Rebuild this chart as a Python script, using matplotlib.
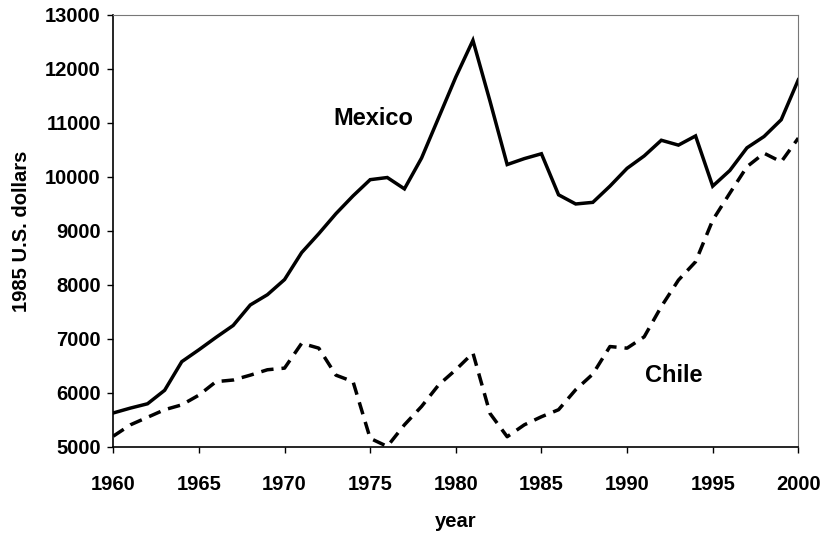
import matplotlib
matplotlib.use("Agg")
import matplotlib.pyplot as plt

years = list(range(1960, 2001))
mexico = [5630, 5720, 5800, 6050, 6580, 6800, 7030, 7250, 7630, 7820, 8100,
          8600, 8950, 9320, 9650, 9950, 9990, 9780, 10350, 11100, 11850,
          12530, 11400, 10230, 10340, 10430, 9670, 9500, 9530, 9830, 10160,
          10390, 10680, 10590, 10760, 9830, 10120, 10540, 10750, 11060, 11800]
chile = [5200, 5410, 5550, 5690, 5780, 5960, 6210, 6240, 6330, 6430, 6460,
         6920, 6830, 6330, 6210, 5160, 5010, 5410, 5750, 6150, 6430,
         6740, 5620, 5190, 5410, 5560, 5690, 6060, 6350, 6860, 6830,
         7040, 7600, 8090, 8430, 9200, 9700, 10190, 10440, 10280, 10720]

xticks = [1960, 1965, 1970, 1975, 1980, 1985, 1990, 1995, 2000]
yticks = [5000, 6000, 7000, 8000, 9000, 10000, 11000, 12000, 13000]

plt.rcParams['font.family'] = ['Liberation Sans', 'DejaVu Sans']
plt.rcParams['font.weight'] = 'bold'

fig = plt.figure(figsize=(8.22, 5.33), dpi=100)
ax = fig.add_axes([0.1378, 0.1614, 0.9712 - 0.1378, 0.9719 - 0.1614])

ax.plot(years, mexico, color='black', lw=2.5, solid_joinstyle='miter')
ax.plot(years, chile, color='black', lw=2.5, linestyle=(0, (3.6, 2.3)))

ax.set_xlim(1960, 2000)
ax.set_ylim(5000, 13000)
ax.set_xticks(xticks)
ax.set_yticks(yticks)
ax.tick_params(axis='x', direction='out', length=4, width=1, pad=16, labelsize=14.5)
ax.tick_params(axis='y', direction='out', length=4, width=1, pad=5, labelsize=14.5)
for lab in ax.get_xticklabels() + ax.get_yticklabels():
    lab.set_fontweight('bold')

for s in ['top', 'right']:
    ax.spines[s].set_linestyle((0, (1, 1)))
    ax.spines[s].set_color('#777777')
    ax.spines[s].set_linewidth(0.8)
for s in ['left', 'bottom']:
    ax.spines[s].set_color('black')
    ax.spines[s].set_linewidth(1.2)

ax.set_xlabel('year', fontsize=14.5, fontweight='bold', labelpad=13)
ax.set_ylabel('1985 U.S. dollars', fontsize=14.5, fontweight='bold', labelpad=10)

ax.text(1975.2, 11090, 'Mexico', fontsize=17, fontweight='bold', ha='center', va='center')
ax.text(1992.7, 6320, 'Chile', fontsize=17, fontweight='bold', ha='center', va='center')

fig.savefig('out.png', dpi=100)
